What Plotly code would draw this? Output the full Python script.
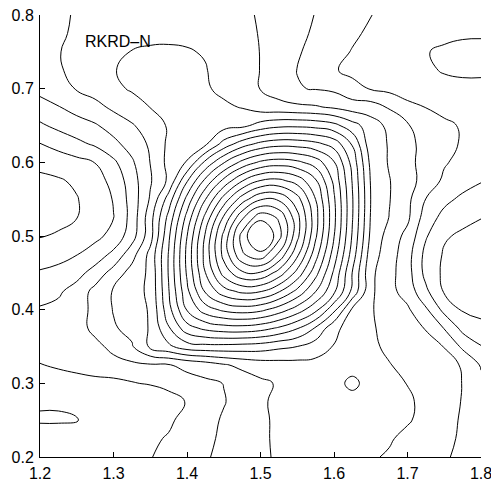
import plotly.graph_objects as go

# grid coordinates (x: 1.2..1.8, y: 0.2..0.8, step 0.025)
x_grid = [1.200, 1.225, 1.250, 1.275, 1.300, 1.325, 1.350, 1.375, 1.400, 1.425, 1.450, 1.475,
          1.500, 1.525, 1.550, 1.575, 1.600, 1.625, 1.650, 1.675, 1.700, 1.725, 1.750, 1.775, 1.800]
y_grid = [0.200, 0.225, 0.250, 0.275, 0.300, 0.325, 0.350, 0.375, 0.400, 0.425, 0.450, 0.475,
          0.500, 0.525, 0.550, 0.575, 0.600, 0.625, 0.650, 0.675, 0.700, 0.725, 0.750, 0.775, 0.800]

# field values (in contour-level units), one row per y
z_y200 = [0.5, 0.45, 0.4, 0.3, 0.25, 0.15, 0.03, -0.2, -0.35, -0.1, 0.25, 0.5, 0.8, 1.15, 1.3, 1.3, 1.3, 1.25, 1.1, 0.9, 0.6, 0.4, 0.1, -0.2, -0.4]
z_y225 = [0.5, 0.5, 0.45, 0.35, 0.3, 0.2, 0.1, -0.05, -0.3, -0.25, 0.2, 0.5, 0.85, 1.15, 1.3, 1.35, 1.35, 1.35, 1.25, 1.1, 0.75, 0.5, 0.25, -0.15, -0.45]
z_y250 = [1.1, 1.1, 1.05, 0.7, 0.45, 0.35, 0.25, 0.1, -0.2, -0.3, 0.1, 0.45, 0.85, 1.15, 1.3, 1.4, 1.45, 1.45, 1.4, 1.3, 1.1, 0.7, 0.3, -0.1, -0.5]
z_y275 = [0.9, 0.9, 0.75, 0.45, 0.35, 0.3, 0.3, 0.35, -0.05, -0.3, -0.05, 0.35, 0.9, 1.15, 1.3, 1.45, 1.55, 1.6, 1.5, 1.3, 1.15, 0.75, 0.4, -0.05, -0.55]
z_y300 = [0.4, 0.35, 0.25, 0.15, 0.1, 0.02, -0.03, -0.25, -0.3, -0.2, 0.02, 0.4, 0.8, 1.1, 1.35, 1.5, 1.65, 2.25, 1.6, 1.35, 0.97, 0.7, 0.35, -0.02, -0.75]
z_y325 = [0.03, -0.1, -0.2, -0.25, -0.25, -0.2, -0.1, -0.05, 0.2, 0.5, 0.9, 1.25, 1.5, 1.6, 1.65, 1.7, 1.7, 1.6, 1.4, 1.05, 0.7, 0.45, 0.2, -0.05, -1.1]
z_y350 = [-0.3, -0.25, -0.2, -0.2, 0.2, 0.9, 2.2, 2.80, 3.55, 3.70, 3.70, 3.62, 3.51, 3.22, 3.0, 2.5, 1.95, 1.55, 1.2, 0.8, 0.55, 0.3, -0.02, -1.2, -1.95]
z_y375 = [-0.6, -0.5, -0.3, 0.2, 0.9, 1.3, 2.1, 3.90, 5.60, 6.26, 6.57, 6.63, 6.40, 5.87, 5.09, 3.90, 2.29, 1.5, 1.1, 0.75, 0.35, -0.05, -1.05, -2.3, -2.8]
z_y400 = [-0.9, -0.75, -0.4, 0.25, 1.05, 1.5, 2.1, 4.64, 7.07, 8.53, 9.22, 9.49, 9.25, 8.52, 7.53, 6.28, 4.27, 1.82, 1.1, 0.5, 0.15, -0.85, -2.3, -3.1, -3.2]
z_y425 = [-1.4, -1.15, -0.6, 0.3, 1.1, 1.6, 2.2, 4.93, 7.76, 10.13, 11.59, 12.25, 12.08, 11.11, 9.73, 8.03, 6.21, 3.74, 1.2, 0.3, -0.4, -1.8, -3.1, -3.3, -3.3]
z_y450 = [-1.9, -1.7, -1.35, -0.6, 0.4, 1.4, 2.2, 5.08, 8.14, 10.99, 13.39, 14.82, 14.89, 13.59, 11.67, 9.36, 6.82, 3.96, 1.22, 0.35, -0.6, -2.3, -3.2, -3.35, -3.4]
z_y475 = [-2.5, -2.35, -2.03, -1.55, -0.75, 0.6, 2.3, 5.06, 8.25, 11.37, 14.34, 16.87, 17.69, 15.82, 13.23, 10.42, 7.52, 4.55, 1.46, 0.5, -0.6, -2.3, -3.1, -3.3, -3.38]
z_y500 = [-3.05, -2.9, -2.6, -2.25, -1.7, -0.45, 1.6, 4.81, 7.98, 11.14, 14.27, 17.38, 19.6, 17.38, 14.28, 11.16, 8.04, 4.89, 1.78, 0.6, -0.3, -1.9, -2.9, -3.15, -3.25]
z_y525 = [-3.4, -3.25, -3.02, -2.5, -2.02, -0.65, 1.6, 4.31, 7.34, 10.29, 13.16, 15.82, 17.69, 16.87, 14.34, 11.37, 8.25, 5.06, 1.92, 0.98, 0.2, -1.5, -2.3, -2.75, -2.98]
z_y550 = [-3.5, -3.35, -3.05, -2.55, -1.95, -0.6, 1.11, 3.44, 6.31, 8.96, 11.41, 13.51, 14.89, 14.82, 13.39, 10.99, 8.14, 5.08, 1.99, 1.05, 0.25, -1.02, -1.75, -2.2, -2.4]
z_y575 = [-3.25, -3.1, -2.85, -2.35, -1.75, -0.45, 0.9, 2.18, 4.90, 7.26, 9.28, 10.95, 12.05, 12.25, 11.59, 10.13, 7.76, 4.93, 1.92, 1.05, 0.35, -0.35, -1.2, -1.6, -1.95]
z_y600 = [-2.7, -2.55, -2.3, -1.98, -1.2, -0.15, 1.02, 2.3, 3.06, 5.23, 6.92, 8.28, 9.18, 9.49, 9.22, 8.53, 7.07, 4.64, 1.74, 0.92, 0.3, -0.4, -0.9, -1.3, -1.65]
z_y625 = [-2.03, -1.65, -1.25, -0.85, -0.25, 0.4, 1.15, 2.2, 2.6, 2.82, 4.38, 5.52, 6.28, 6.63, 6.57, 6.26, 5.60, 3.90, 1.37, 0.95, 0.3, -0.35, -0.7, -1.1, -1.45]
z_y650 = [-1.15, -0.75, -0.4, -0.1, 0.4, 0.9, 1.5, 2.1, 2.4, 2.5, 2.6, 2.73, 3.38, 3.74, 3.79, 3.66, 3.30, 2.38, 1.5, 0.75, 0.1, -0.55, -0.8, -1.1, -1.45]
z_y675 = [-0.4, -0.05, 0.35, 0.7, 1.2, 1.6, 2.02, 2.25, 2.35, 2.3, 2.15, 1.95, 1.5, 1.35, 1.2, 1.1, 0.85, 0.55, 0.45, -0.1, -0.75, -1.02, -1.3, -1.5, -1.7]
z_y700 = [0.3, 0.75, 1.05, 1.4, 1.8, 2.1, 2.3, 2.4, 2.35, 2.1, 1.8, 1.45, 0.97, 0.5, 0.05, -0.05, -0.2, -0.8, -1.05, -1.25, -1.45, -1.65, -1.8, -1.85, -1.85]
z_y725 = [0.45, 0.9, 1.25, 1.6, 1.97, 2.15, 2.25, 2.3, 2.25, 2.04, 1.7, 1.35, 0.98, 0.5, -0.02, -0.45, -0.95, -1.15, -1.4, -1.6, -1.75, -1.9, -2.05, -2.1, -2.1]
z_y750 = [0.55, 0.95, 1.3, 1.6, 1.85, 2.02, 2.07, 2.08, 2.05, 1.95, 1.6, 1.3, 0.98, 0.55, 0.1, -0.3, -0.7, -1.05, -1.35, -1.55, -1.75, -1.97, -2.1, -2.2, -2.25]
z_y775 = [0.6, 0.85, 1.15, 1.45, 1.7, 1.82, 1.87, 1.88, 1.85, 1.75, 1.5, 1.25, 0.95, 0.6, 0.25, -0.15, -0.5, -0.85, -1.15, -1.4, -1.6, -1.75, -1.85, -1.9, -1.9]
z_y800 = [0.6, 0.8, 1.1, 1.4, 1.6, 1.75, 1.85, 1.85, 1.75, 1.6, 1.4, 1.2, 0.9, 0.6, 0.3, -0.03, -0.35, -0.65, -0.98, -1.25, -1.45, -1.6, -1.7, -1.75, -1.75]

z_rows = [z_y200, z_y225, z_y250, z_y275, z_y300, z_y325, z_y350, z_y375, z_y400,
          z_y425, z_y450, z_y475, z_y500, z_y525, z_y550, z_y575, z_y600, z_y625,
          z_y650, z_y675, z_y700, z_y725, z_y750, z_y775, z_y800]

x_ticks = [1.2, 1.3, 1.4, 1.5, 1.6, 1.7, 1.8]
x_tick_text = ["1.2", "1.3", "1.4", "1.5", "1.6", "1.7", "1.8"]
y_ticks = [0.2, 0.3, 0.4, 0.5, 0.6, 0.7, 0.8]
y_tick_text = ["0.2", "0.3", "0.4", "0.5", "0.6", "0.7", "0.8"]

label_text = "RKRD\u2013N"
font_family = "Liberation Sans, Arial, Helvetica, sans-serif"

fig = go.Figure()
fig.add_trace(go.Contour(
    x=x_grid, y=y_grid, z=z_rows,
    contours=dict(start=-3, end=18, size=1, coloring="none"),
    line=dict(color="black", width=1, smoothing=1.3),
    showscale=False, hoverinfo="skip",
))

fig.add_annotation(x=1.258, y=0.7635, xref="x", yref="y", text=label_text,
                   showarrow=False, xanchor="left", yanchor="middle",
                   font=dict(family=font_family, size=16, color="black"))

axis_common = dict(showgrid=False, zeroline=False, showline=True, linecolor="black", linewidth=1,
                   mirror=False, ticks="inside", ticklen=5, tickwidth=1, tickcolor="black",
                   ticklabeloverflow="allow", automargin=False,
                   tickfont=dict(family=font_family, size=16, color="black"))

fig.update_layout(
    width=491, height=481,
    margin=dict(l=40, r=10, t=15, b=24, autoexpand=False),
    paper_bgcolor="white", plot_bgcolor="white",
    showlegend=False,
    xaxis=dict(range=[1.2, 1.8], tickvals=x_ticks, ticktext=x_tick_text,
               ticklabelstandoff=2, **axis_common),
    yaxis=dict(range=[0.2, 0.8], tickvals=y_ticks, ticktext=y_tick_text,
               ticklabelstandoff=2, **axis_common),
)

fig.write_html("out.html")
